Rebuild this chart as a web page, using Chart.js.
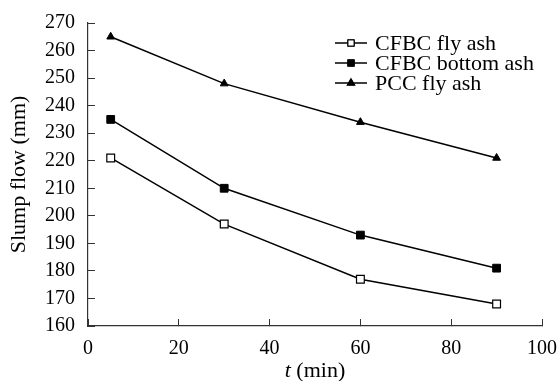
<!DOCTYPE html>
<html>
<head>
<meta charset="utf-8">
<script src="https://cdn.jsdelivr.net/npm/chart.js@4.4.1/dist/chart.umd.min.js"></script>
<style>
  html, body { margin: 0; padding: 0; background: #fff; }
  #wrap { width: 558px; height: 381px; }
</style>
</head>
<body>
<div id="wrap"><canvas id="chart"></canvas></div>
<script>
// temps (min) et valeurs
const times = [5, 30, 60, 90];
const cfbcFlyAsh = [221, 197, 177, 168];
const cfbcBottomAsh = [235, 210, 193, 181];
const pccFlyAsh = [265, 248, 234, 221];
const seriesNames = ['CFBC fly ash', 'CFBC bottom ash', 'PCC fly ash'];
const xTickValues = [0, 20, 40, 60, 80, 100];
const yTickValues = [160, 170, 180, 190, 200, 210, 220, 230, 240, 250, 260, 270];
const xTitle = ['t', ' (min)'];
const yTitle = 'Slump flow (mm)';

const serif = "'Liberation Serif', 'Times New Roman', serif";
const tickSize = 20;
const textSize = 22;

function toPoints(values) {
    return values.map((v, i) => ({ x: times[i], y: v }));
}

// légende dessinée dans la zone du graphique (trait + marqueur)
const insideLegend = {
    id: 'insideLegend',
    afterDraw(chart) {
        const ctx = chart.ctx;
        ctx.save();
        chart.data.datasets.forEach((ds, i) => {
            const y = 43 + i * 20;
            ctx.strokeStyle = '#000';
            ctx.lineWidth = 1.5;
            ctx.beginPath();
            ctx.moveTo(335, y);
            ctx.lineTo(367, y);
            ctx.stroke();
            Chart.helpers.drawPoint(ctx, {
                pointStyle: ds.pointStyle,
                radius: ds.pointStyle === 'triangle' ? 4 : 4.3,
                borderWidth: 1,
                rotation: 0
            }, 351, y);
            ctx.fillStyle = ds.pointBackgroundColor;
            ctx.strokeStyle = '#000';
            ctx.lineWidth = 1;
            ctx.fill();
            ctx.stroke();
            ctx.fillStyle = '#000';
            ctx.font = textSize + 'px ' + serif;
            ctx.textBaseline = 'middle';
            ctx.textAlign = 'left';
            ctx.fillText(ds.label, 375, y + 1);
        });
        ctx.restore();
    }
};

// titre de l'axe x avec le t en italique
const xAxisTitle = {
    id: 'xAxisTitle',
    afterDraw(chart) {
        const ctx = chart.ctx;
        const area = chart.chartArea;
        ctx.save();
        ctx.fillStyle = '#000';
        ctx.textBaseline = 'middle';
        ctx.textAlign = 'left';
        ctx.font = 'italic ' + textSize + 'px ' + serif;
        const w1 = ctx.measureText(xTitle[0]).width;
        ctx.font = textSize + 'px ' + serif;
        const w2 = ctx.measureText(xTitle[1]).width;
        const x0 = (area.left + area.right) / 2 - (w1 + w2) / 2;
        ctx.font = 'italic ' + textSize + 'px ' + serif;
        ctx.fillText(xTitle[0], x0, 371);
        ctx.font = textSize + 'px ' + serif;
        ctx.fillText(xTitle[1], x0 + w1, 371);
        ctx.restore();
    }
};

const ctx = document.getElementById('chart').getContext('2d');
const chart = new Chart(ctx, {
    type: 'line',
    data: {
        datasets: [{
            label: seriesNames[0],
            data: toPoints(cfbcFlyAsh),
            borderColor: '#000',
            borderWidth: 1.5,
            pointStyle: 'rect',
            pointRadius: 5.5,
            pointBackgroundColor: '#fff',
            pointBorderColor: '#000',
            pointBorderWidth: 1.2,
            tension: 0
        }, {
            label: seriesNames[1],
            data: toPoints(cfbcBottomAsh),
            borderColor: '#000',
            borderWidth: 1.5,
            pointStyle: 'rect',
            pointRadius: 5.5,
            pointBackgroundColor: '#000',
            pointBorderColor: '#000',
            pointBorderWidth: 1,
            tension: 0
        }, {
            label: seriesNames[2],
            data: toPoints(pccFlyAsh),
            borderColor: '#000',
            borderWidth: 1.5,
            pointStyle: 'triangle',
            pointRadius: 4.5,
            pointBackgroundColor: '#000',
            pointBorderColor: '#000',
            pointBorderWidth: 1,
            tension: 0
        }]
    },
    options: {
        responsive: true,
        maintainAspectRatio: false,
        animation: false,
        layout: { padding: { left: 0, top: 23, right: 16, bottom: 0 } },
        plugins: {
            legend: { display: false },
            tooltip: { enabled: false }
        },
        scales: {
            x: {
                type: 'linear',
                min: 0,
                max: 100,
                afterBuildTicks: axis => { axis.ticks = xTickValues.map(v => ({ value: v })); },
                afterFit: axis => {
                    axis.height = 55;
                    axis.paddingLeft = 0;
                    axis.paddingRight = 0;
                },
                grid: { drawOnChartArea: false, tickLength: -7, color: '#333', lineWidth: 1 },
                border: { color: '#333', width: 1.2 },
                ticks: { color: '#000', padding: 18, maxRotation: 0, font: { family: serif, size: tickSize } }
            },
            y: {
                type: 'linear',
                min: 160,
                max: 270,
                afterBuildTicks: axis => { axis.ticks = yTickValues.map(v => ({ value: v })); },
                afterFit: axis => {
                    axis.width = 88;
                    axis.paddingTop = 0;
                    axis.paddingBottom = 0;
                },
                grid: { drawOnChartArea: false, tickLength: -7, color: '#333', lineWidth: 1 },
                border: { color: '#333', width: 1.2 },
                ticks: { color: '#000', padding: 20, font: { family: serif, size: tickSize } },
                title: {
                    display: true,
                    text: yTitle,
                    color: '#000',
                    font: { family: serif, size: textSize },
                    padding: { top: 6, bottom: 0 }
                }
            }
        }
    },
    plugins: [insideLegend, xAxisTitle]
});
</script>
</body>
</html>
